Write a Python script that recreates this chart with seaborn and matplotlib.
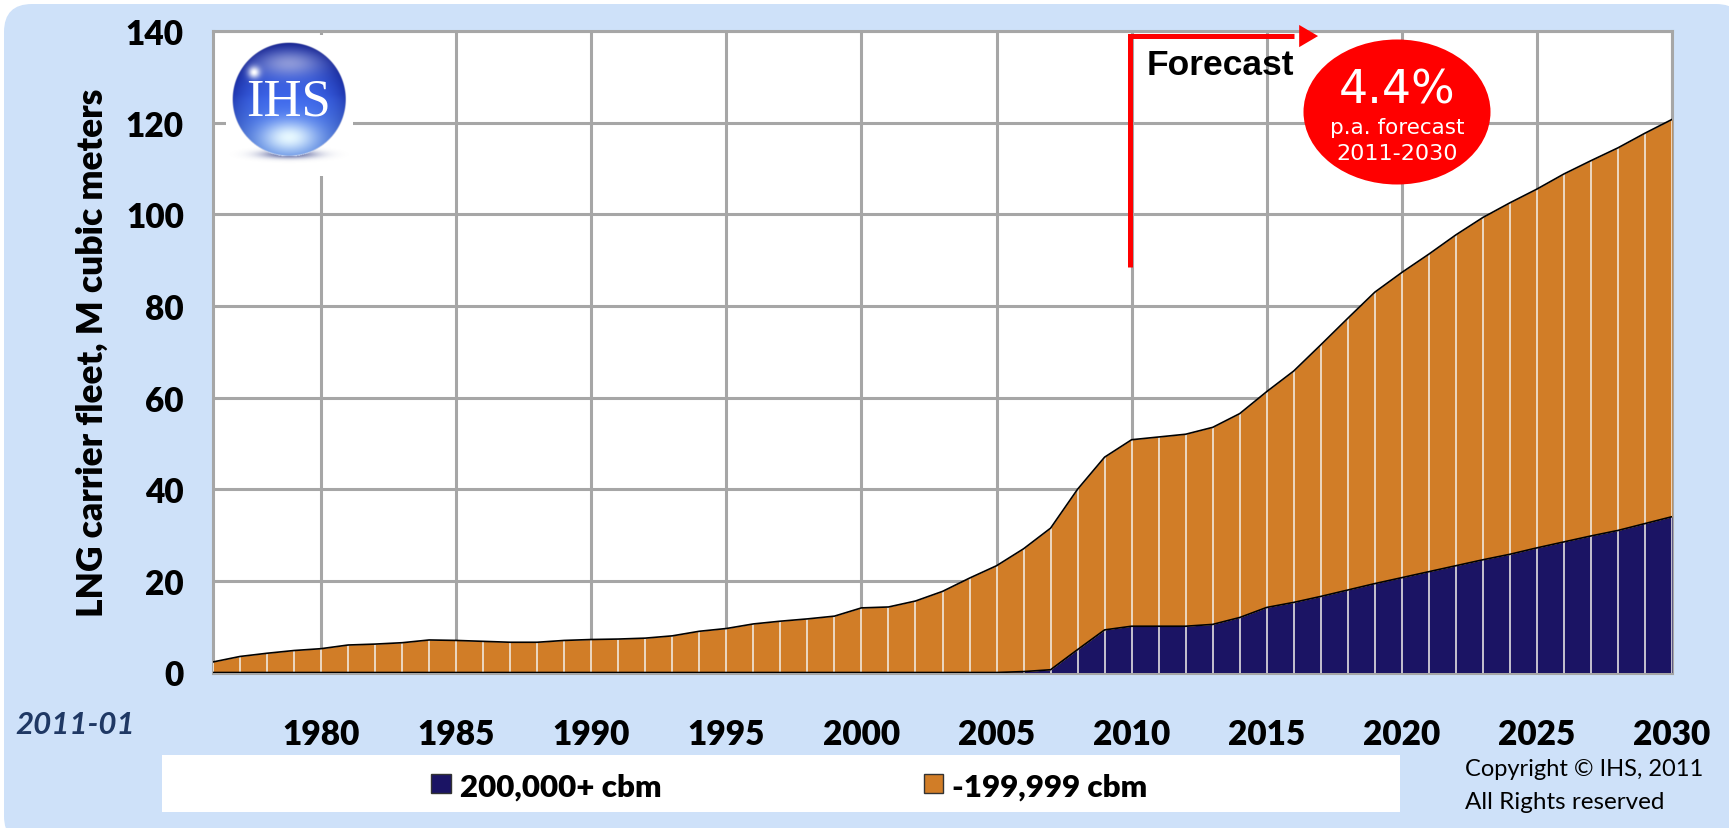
import numpy as np
import matplotlib
matplotlib.use("Agg")
import matplotlib.pyplot as plt
import matplotlib.transforms as mtrans
from matplotlib.patches import Ellipse, FancyBboxPatch, Rectangle
import seaborn as sns

# Values, M cubic meters
years = list(range(1976, 2031))
total_fleet = [2.3, 3.5, 4.2, 4.8, 5.2, 6.0, 6.2, 6.5, 7.1, 7.0,
               6.8, 6.6, 6.6, 7.0, 7.2, 7.3, 7.5, 8.0, 9.0, 9.6,
               10.6, 11.2, 11.7, 12.3, 14.1, 14.3, 15.6, 17.7, 20.6, 23.3,
               27.0, 31.5, 40.0, 47.0, 50.8, 51.4, 52.0, 53.5, 56.5, 61.3,
               65.8, 71.5, 77.3, 83.0, 87.3, 91.3, 95.5, 99.3, 102.5, 105.5,
               108.8, 111.7, 114.5, 117.7, 120.7]
large_fleet = [0] * 30 + [0.2, 0.6, 5.0, 9.3, 10.1, 10.1, 10.1, 10.5, 12.0, 14.2,
                          15.3, 16.6, 18.0, 19.4, 20.7, 22.0, 23.3, 24.6, 25.8, 27.2,
                          28.5, 29.8, 31.0, 32.5, 34.0]
x_ticks = [1980, 1985, 1990, 1995, 2000, 2005, 2010, 2015, 2020, 2025, 2030]
y_ticks = [0, 20, 40, 60, 80, 100, 120, 140]

NAVY = "#1B1464"
ORANGE = "#D17D27"
GRID = "#A6A6A6"
PANEL = "#CEE1F9"
BOLD_FONT = "Lato"
WEIGHT = "heavy"

W, H = 1729, 829

sns.set_theme(style="whitegrid")
plt.rcParams["font.family"] = [BOLD_FONT, "DejaVu Sans"]

fig = plt.figure(figsize=(W / 100, H / 100), dpi=100, facecolor="white")
# Pixel coordinates with the origin top left, for the furniture around the chart
px = mtrans.Affine2D().scale(1 / W, -1 / H).translate(0, 1) + fig.transFigure

fig.add_artist(FancyBboxPatch((4, 5), 1740, 840, boxstyle="round,pad=0,rounding_size=28",
                              transform=px, facecolor=PANEL, edgecolor="none", zorder=-5))

ax = fig.add_axes([213 / W, 1 - 673.5 / H, (1672 - 213) / W, (673.5 - 32) / H])
ax.set_facecolor("white")

# Stacked areas
ax.fill_between(years, 0, large_fleet, color=NAVY, lw=0, zorder=3)
ax.fill_between(years, large_fleet, total_fleet, color=ORANGE, lw=0, zorder=3)
ax.vlines(years, 0, total_fleet, color="#F4F1EC", lw=1.1, zorder=4)
sns.lineplot(x=years, y=total_fleet, color="black", lw=1.2, ax=ax, zorder=5)
sns.lineplot(x=years, y=large_fleet, color="black", lw=1.2, ax=ax, zorder=5)

ax.set_xlim(1976, 2030)
ax.set_ylim(0, 140)
ax.set_xticks(x_ticks)
ax.set_yticks(y_ticks)
ax.set_xlabel("")
ax.set_ylabel("")
ax.grid(True, color=GRID, lw=2.2, zorder=1)
ax.set_axisbelow(True)
for side in ax.spines:
    ax.spines[side].set_color(GRID)
    ax.spines[side].set_linewidth(2.2)
ax.tick_params(axis="x", length=7, width=2.2, color=GRID, pad=26, labelsize=24)
ax.tick_params(axis="y", length=8, width=2.2, color=GRID, pad=13, labelsize=24)
for label in ax.get_xticklabels() + ax.get_yticklabels():
    label.set_fontweight(WEIGHT)
    label.set_color("black")

fig.text(92, 353, "LNG carrier fleet, M cubic meters", transform=px, rotation=90,
         ha="center", va="center", fontsize=25.5, fontweight=WEIGHT, color="black")

# Forecast marker
ax.plot([2009.95, 2009.95, 2016], [88.4, 138.9, 138.9], color="#FF0000", lw=3.6,
        solid_capstyle="butt", solid_joinstyle="miter", zorder=6)
ax.annotate("", xy=(2016.9, 138.9), xytext=(2015.8, 138.9), zorder=6,
            arrowprops=dict(arrowstyle="-|>,head_length=0.85,head_width=0.5", color="#FF0000",
                            lw=0, shrinkA=0, shrinkB=0, mutation_scale=16))
ax.text(2010.55, 132.6, "Forecast", ha="left", va="center", fontsize=25.5, fontweight="bold",
        family="Liberation Sans", color="black", zorder=7)

# Growth bubble
fig.add_artist(Ellipse((1397, 113), 187, 145, transform=px, facecolor="#FF0000",
                       edgecolor="none", zorder=3))
fig.text(1397, 91, "4.4%", transform=px, ha="center", va="center", color="white",
         fontsize=33, family="DejaVu Sans", zorder=4)
fig.text(1397, 128, "p.a. forecast", transform=px, ha="center", va="center", color="white",
         fontsize=15.5, family="DejaVu Sans", zorder=4)
fig.text(1397, 154, "2011-2030", transform=px, ha="center", va="center", color="white",
         fontsize=16, family="DejaVu Sans", zorder=4)

# Logo: white patch hiding the grid, then a shaded ball
fig.add_artist(Rectangle((226, 36), 127, 141, transform=px, facecolor="white",
                         edgecolor="none", zorder=2))
cx, cy, r = 289, 100, 57
logo_ax = fig.add_axes([(cx - r - 8) / W, 1 - (cy + r + 14) / H, (2 * r + 16) / W, (2 * r + 22) / H],
                       zorder=3)
logo_ax.axis("off")
gy, gx = np.mgrid[-(r + 8):(r + 14):0.5, -(r + 8):(r + 8):0.5]
dist = np.hypot(gx, gy) / r
# Ball body: dark rim and top, brighter blue towards the lower middle
shade = np.clip(0.55 * dist ** 3 + 0.35 * np.clip(-gy / r, 0, 1), 0, 1)[..., None]
logo = np.zeros(gx.shape + (4,))
logo[..., :3] = (1 - shade) * np.array([0.24, 0.40, 0.92]) + shade * np.array([0.03, 0.07, 0.50])
low = np.clip((gy + 5) / r, 0, 1)[..., None] * 0.6
logo[..., :3] = logo[..., :3] * (1 - low) + low * np.array([0.45, 0.70, 1.0])
glow = np.exp(-((gx / 28) ** 2 + ((gy - 38) / 16) ** 2))[..., None]
logo[..., :3] = logo[..., :3] * (1 - glow) + glow * np.array([0.90, 0.97, 1.0])
top = 0.6 * np.exp(-((gx / 32) ** 2 + ((gy + 36) / 13) ** 2))[..., None]
logo[..., :3] = logo[..., :3] * (1 - top) + top * np.array([0.80, 0.80, 0.90])
spot = np.exp(-(((gx + 35) / 6) ** 2 + ((gy + 27) / 6) ** 2))[..., None]
logo[..., :3] = logo[..., :3] * (1 - spot) + spot
logo[..., 3] = np.clip((1 - dist) * r, 0, 1)
# Soft shadow below the ball
shadow = np.exp(-((gx / 26) ** 2 + ((gy - 55) / 4) ** 2)) * (dist >= 1)
logo[..., :3] = np.where(dist[..., None] < 1, logo[..., :3], np.array([0.15, 0.2, 0.5]))
logo[..., 3] = np.maximum(logo[..., 3], 0.8 * shadow)
logo_ax.imshow(logo, interpolation="bilinear", aspect="auto")
fig.text(289, 102, "IHS", transform=px, ha="center", va="center", color="white",
         fontsize=38, family="Liberation Serif", zorder=5)

# Legend strip
fig.add_artist(Rectangle((162, 756), 1238, 57, transform=px, facecolor="white",
                         edgecolor="none", zorder=1))
fig.add_artist(Rectangle((431, 775), 20, 19, transform=px, facecolor=NAVY,
                         edgecolor="#333333", lw=1, zorder=2))
fig.text(460, 785, "200,000+ cbm", transform=px, ha="left", va="center_baseline",
         fontsize=22.5, fontweight=WEIGHT, color="black", zorder=2)
fig.add_artist(Rectangle((924, 775), 19, 19, transform=px, facecolor=ORANGE,
                         edgecolor="#333333", lw=1, zorder=2))
fig.text(952, 785, "-199,999 cbm", transform=px, ha="left", va="center_baseline",
         fontsize=22.5, fontweight=WEIGHT, color="black", zorder=2)

# Side notes
fig.text(15, 725, "2011-01", transform=px, ha="left", va="center", fontsize=22.5,
         fontweight="bold", style="italic", color="#1F3864")
fig.text(1465, 770, "Copyright © IHS, 2011", transform=px, ha="left", va="center",
         fontsize=17, color="black")
fig.text(1465, 803, "All Rights reserved", transform=px, ha="left", va="center",
         fontsize=17.5, color="black")

fig.savefig("out.png", dpi=100)
